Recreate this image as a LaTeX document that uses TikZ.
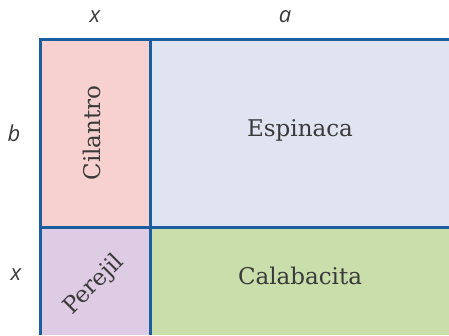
\documentclass[tikz,border=0pt]{standalone}
\usepackage{fontspec}
\setmainfont{DejaVu Serif}
\newfontfamily\labelfont{Open Sans}
\usetikzlibrary{positioning}

\definecolor{gridblue}{HTML}{1B5E9F}
\definecolor{cellpink}{HTML}{F6D1D0}
\definecolor{cellblue}{HTML}{E0E4F1}
\definecolor{cellpurple}{HTML}{DECCE4}
\definecolor{cellgreen}{HTML}{C9DEAA}
\definecolor{textgray}{HTML}{3A3A3A}

\begin{document}
\begin{tikzpicture}[x=1pt,y=1pt,
            side/.style={font=\labelfont\itshape\fontsize{22}{26}\selectfont,text=textgray},
            crop/.style={font=\fontsize{23}{27}\selectfont,text=textgray,inner sep=1pt},
            edge/.style={draw=gridblue,line width=3pt}]
            \useasboundingbox (0,0) rectangle (449,335);

            % cells
            \fill[cellpink]   (40,108) rectangle (150.5,295);
            \fill[cellblue]   (150.5,108) rectangle (449,295);
            \fill[cellpurple] (40,0) rectangle (150.5,108);
            \fill[cellgreen]  (150.5,0) rectangle (449,108);

            % grid lines
            \path[edge] (40,0) -- (40,295) -- (449,295);
            \path[edge] (150.5,0) -- (150.5,295);
            \path[edge] (40,108) -- (449,108);

            % side labels
            \node[side] (xtop) at (95,318) {x};
            \node[side] (atop) at (285,318) {a};
            \node[side] (bleft) at (14,202) {b};
            \node[side] (xleft) at (16,60) {x};

            % crop names
            \node[crop,rotate=90] (cil) at (92,202) {Cilantro};
            \node[crop,rotate=45] (per) at (94,50) {Perejil};
            \node[crop] (esp) at (300,205) {Espinaca};
            \node[crop] (cal) at (300,59) {Calabacita};
\end{tikzpicture}
\end{document}
